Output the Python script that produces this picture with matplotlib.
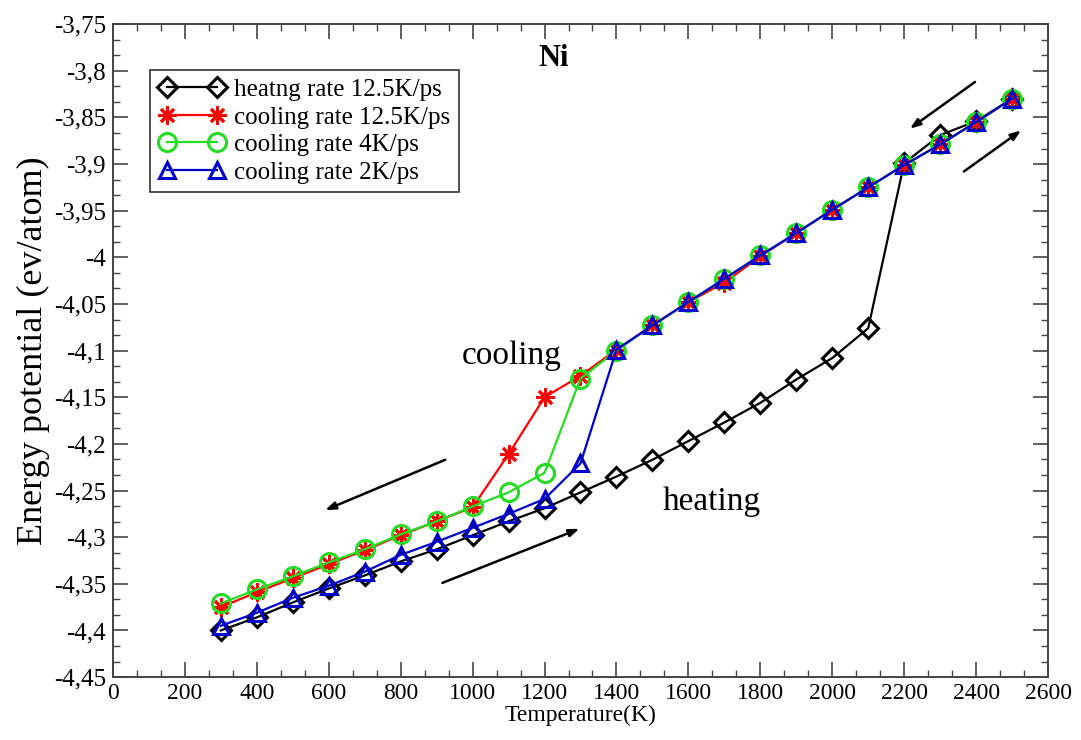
import matplotlib
matplotlib.use("Agg")
import matplotlib.pyplot as plt
from matplotlib.ticker import MultipleLocator, FuncFormatter

plt.rcParams['font.family'] = ['Liberation Serif', 'DejaVu Serif']

# temperature grid (K)
temps = [300, 400, 500, 600, 700, 800, 900, 1000, 1100, 1200, 1300, 1400,
         1500, 1600, 1700, 1800, 1900, 2000, 2100, 2200, 2300, 2400, 2500]

# potential energy per atom (eV)
heat_12_5 = [-4.400, -4.386, -4.370, -4.355, -4.341, -4.326, -4.313, -4.298,
             -4.283, -4.269, -4.252, -4.235, -4.217, -4.197, -4.177, -4.156,
             -4.131, -4.108, -4.076, -3.899, -3.869, -3.854, -3.830]
cool_12_5 = [-4.375, -4.359, -4.344, -4.329, -4.314, -4.298, -4.283, -4.268,
             -4.211, -4.150, -4.127, -4.099, -4.073, -4.048, -4.027, -3.999,
             -3.974, -3.949, -3.925, -3.901, -3.879, -3.855, -3.830]
cool_4 = [-4.371, -4.356, -4.342, -4.327, -4.313, -4.297, -4.283, -4.267,
          -4.252, -4.231, -4.130, -4.100, -4.073, -4.048, -4.023, -3.998,
          -3.974, -3.949, -3.925, -3.901, -3.879, -3.855, -3.830]
cool_2 = [-4.395, -4.381, -4.365, -4.352, -4.337, -4.319, -4.305, -4.290,
          -4.275, -4.259, -4.221, -4.099, -4.073, -4.048, -4.023, -3.998,
          -3.974, -3.949, -3.925, -3.901, -3.879, -3.855, -3.830]

labels = ['heatng rate 12.5K/ps', 'cooling rate 12.5K/ps',
          'cooling rate 4K/ps', 'cooling rate 2K/ps']

fig = plt.figure(figsize=(10.81, 7.40), dpi=100)
ax = fig.add_axes([0.1045, 0.085, 0.865, 0.8824])

ax.plot(temps, heat_12_5, color='black', lw=1.6, marker='D', ms=10,
        mfc='none', mec='black', mew=2.2, label=labels[0])
ax.plot(temps, cool_12_5, color='red', lw=1.6, marker=(8, 2, 0), ms=13,
        mfc='none', mec='red', mew=2.0, label=labels[1])
ax.plot(temps, cool_4, color='#22dd22', lw=1.6, marker='o', ms=13,
        mfc='none', mec='#22dd22', mew=2.2, label=labels[2])
ax.plot(temps, cool_2, color='#0000cc', lw=1.6, marker='^', ms=12,
        mfc='none', mec='#0000cc', mew=2.2, label=labels[3])

ax.set_xlim(0, 2600)
ax.set_ylim(-4.45, -3.75)
ax.xaxis.set_major_locator(MultipleLocator(200))
ax.xaxis.set_minor_locator(MultipleLocator(200 / 3))
ax.yaxis.set_major_locator(MultipleLocator(0.05))
ax.yaxis.set_minor_locator(MultipleLocator(0.05 / 3))


def comma_fmt(v, pos):
    s = ('%.2f' % v).rstrip('0').rstrip('.')
    return s.replace('.', ',')


ax.yaxis.set_major_formatter(FuncFormatter(comma_fmt))
ax.tick_params(which='both', direction='in', top=True, right=True,
               color='#444444')
ax.tick_params(axis='y', labelsize=18, pad=5)
ax.tick_params(axis='x', labelsize=17, pad=4)
ax.tick_params(which='major', length=11, width=1.2)
ax.tick_params(which='minor', length=5, width=1.0)
for sp in ax.spines.values():
    sp.set_color('#444444')
    sp.set_linewidth(1.4)

ax.set_xlabel('Temperature(K)', fontsize=17, labelpad=1)
ax.set_ylabel('Energy potential (ev/atom)', fontsize=26, labelpad=3)

leg = ax.legend(loc='upper left', bbox_to_anchor=(0.04, 0.93),
                borderaxespad=0, numpoints=2, handlelength=2.6,
                fontsize=18, fancybox=False, edgecolor='#333333',
                framealpha=1, labelspacing=0.2, handletextpad=0.4,
                borderpad=0.35)
leg.get_frame().set_linewidth(1.2)

ax.text(1225, -3.787, 'Ni', fontsize=22, fontweight='bold', ha='center', va='center')
ax.text(1110, -4.105, 'cooling', fontsize=24, ha='center', va='center')
ax.text(1665, -4.262, 'heating', fontsize=24, ha='center', va='center')

# direction arrows
arrow_kw = dict(arrowstyle='-|>,head_length=0.6,head_width=0.22',
                color='black', lw=1.8, shrinkA=0, shrinkB=0)
ax.annotate('', xy=(2216, -3.862), xytext=(2397, -3.812), arrowprops=arrow_kw)
ax.annotate('', xy=(2525, -3.864), xytext=(2366, -3.908), arrowprops=arrow_kw)
ax.annotate('', xy=(590, -4.271), xytext=(924, -4.217), arrowprops=arrow_kw)
ax.annotate('', xy=(1297, -4.291), xytext=(916, -4.349), arrowprops=arrow_kw)

fig.savefig('out.png', dpi=100)
